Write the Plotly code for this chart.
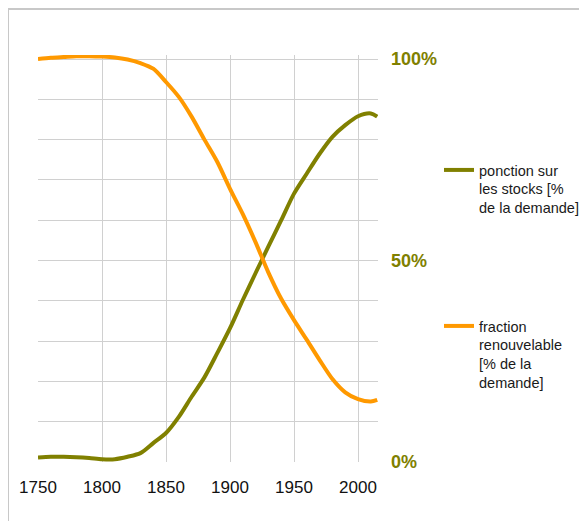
import plotly.graph_objects as go

years = [1750, 1760, 1770, 1780, 1790, 1800, 1810, 1820, 1830, 1840, 1850, 1860, 1870, 1880,
         1890, 1900, 1910, 1920, 1930, 1940, 1950, 1960, 1970, 1980, 1990, 2000, 2010, 2015]
stocks = [1.1, 1.3, 1.3, 1.2, 1.0, 0.7, 0.7, 1.3, 2.2, 4.7, 7.2, 11.2, 16.2, 21.0,
          27.0, 33.2, 40.2, 46.9, 53.5, 60.0, 66.6, 71.6, 76.5, 80.7, 83.6, 85.8, 86.5, 85.7]
renew = [100.0, 100.3, 100.5, 100.7, 100.7, 100.6, 100.4, 99.9, 99.0, 97.6, 94.3, 90.6, 85.7, 80.0,
         74.5, 67.8, 61.5, 54.5, 47.0, 40.5, 35.2, 30.3, 25.3, 20.6, 17.3, 15.6, 15.0, 15.4]

name_stocks = "ponction sur<br>les stocks [%<br>de la demande]"
name_renew = "fraction<br>renouvelable<br>[% de la<br>demande]"

ytickvals = list(range(0, 101, 10))
yticktext = ["<b>%d%%</b>" % v if v in (0, 50, 100) else "" for v in ytickvals]
xtickvals = [1750, 1800, 1850, 1900, 1950, 2000]

OLIVE = "#808000"
ORANGE = "#FF9900"
FONT = "Liberation Sans, Arial, sans-serif"

fig = go.Figure()
fig.add_trace(go.Scatter(x=years, y=stocks, mode="lines", name=name_stocks,
                         line=dict(color=OLIVE, width=4, shape="spline", smoothing=0.8),
                         legend="legend", showlegend=True))
fig.add_trace(go.Scatter(x=years, y=renew, mode="lines", name=name_renew,
                         line=dict(color=ORANGE, width=4, shape="spline", smoothing=0.8),
                         legend="legend2", showlegend=True))

# page is offset by 8px (body margin); figure coordinates = page - 8
L, T, R, B = 30, 47, 201, 59
W, H = 571, 513
pw, ph = W - L - R, H - T - B

def px(xp):
    return (xp - L) / pw

def py(yp):
    return (H - B - yp) / ph

fig.update_layout(
    width=W, height=H,
    margin=dict(l=L, r=R, t=T, b=B, autoexpand=False),
    paper_bgcolor="white", plot_bgcolor="white",
    showlegend=True,
    font=dict(family=FONT, color="#111111"),
    xaxis=dict(range=[1750, 2015.6], tickvals=xtickvals, showgrid=True,
               gridcolor="#d0d0d0", gridwidth=1.3, zeroline=False, showline=False,
               ticks="", tickfont=dict(size=17, color="#111111"), ticklabelstandoff=13,
               automargin=False),
    yaxis=dict(range=[0, 101], side="right", tickvals=ytickvals, ticktext=yticktext,
               showgrid=True, gridcolor="#d0d0d0", gridwidth=1.3, zeroline=False,
               showline=False, ticks="", tickfont=dict(size=18, color=OLIVE),
               ticklabelstandoff=12, automargin=False),
    legend=dict(visible=True, x=px(431), y=py(146), xanchor="left", yanchor="top", valign="top",
                font=dict(size=14.5, color="#1a1a1a"), bgcolor="rgba(0,0,0,0)"),
    legend2=dict(visible=True, x=px(431), y=py(302), xanchor="left", yanchor="top", valign="top",
                 font=dict(size=14.5, color="#1a1a1a"), bgcolor="rgba(0,0,0,0)"),
    shapes=[dict(type="rect", xref="paper", yref="paper",
                 x0=px(0), x1=px(640), y0=py(600), y1=py(1),
                 line=dict(color="#c8c8c8", width=2), layer="below")],
)

fig.write_html("out.html")
